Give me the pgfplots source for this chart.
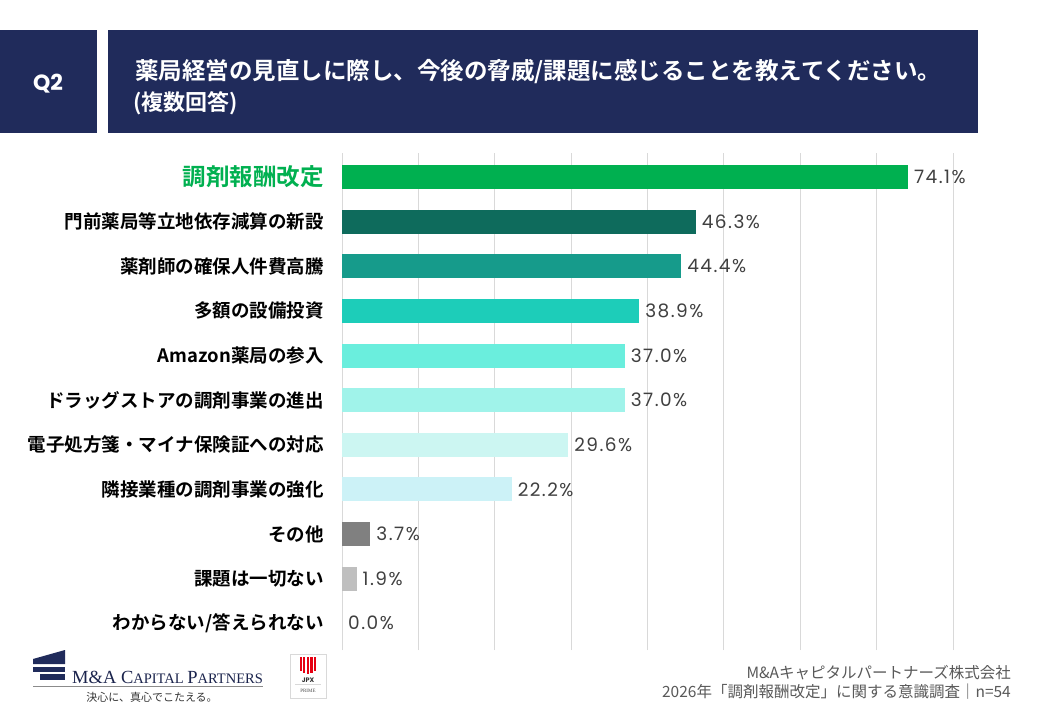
\documentclass[border=0pt]{standalone}
\usepackage{pgfplots}
\pgfplotsset{compat=1.18}
\usepackage{fontspec}
\setmainfont{Noto Sans CJK JP}
\newfontfamily\jp[BoldFont={Noto Sans CJK JP Bold}]{Noto Sans CJK JP}
\newfontfamily\pop{Poppins}
\newfontfamily\popw[LetterSpace=8]{Poppins}
\newfontfamily\lserif{Liberation Serif}
\definecolor{navy}{HTML}{202B5B}
\definecolor{cA}{HTML}{00B050}
\definecolor{cB}{HTML}{0E6B5C}
\definecolor{cC}{HTML}{169B8B}
\definecolor{cD}{HTML}{1DCDB9}
\definecolor{cE}{HTML}{6AEEDD}
\definecolor{cF}{HTML}{A0F3EA}
\definecolor{cG}{HTML}{CCF6F2}
\definecolor{cH}{HTML}{CCF2F7}
\definecolor{cI}{HTML}{808080}
\definecolor{cJ}{HTML}{BFBFBF}
\definecolor{gridc}{HTML}{D9D9D9}
\definecolor{valc}{HTML}{404040}
\definecolor{footc}{HTML}{595959}
\definecolor{jpxred}{HTML}{E60012}
\begin{document}
\begin{tikzpicture}[x=1pt,y=1pt]
\path[fill=white] (0pt,0pt) rectangle (1040pt,720pt);
% chart
\begin{axis}[
  at={(342pt,70pt)}, anchor=south west,
  width=611pt, height=497pt, scale only axis,
  xmin=0, xmax=80, ymin=-10.6, ymax=0.54,
  xbar, bar width=24pt, bar shift=0pt,
  xtick={0,10,...,80}, xticklabels={},
  xmajorgrids, grid style={draw=gridc, line width=1pt},
  axis line style={draw=none}, tick style={draw=none},
  ytick={-10,-9,...,0},
  yticklabels={わからない/答えられない,課題は一切ない,その他,隣接業種の調剤事業の強化,電子処方箋・マイナ保険証への対応,ドラッグストアの調剤事業の進出,Amazon薬局の参入,多額の設備投資,薬剤師の確保人件費高騰,門前薬局等立地依存減算の新設,{\fontsize{23.5}{23.5}\selectfont\color{cA}調剤報酬改定}},
  yticklabel style={anchor=east, inner sep=0pt, xshift=-14pt, font=\jp\bfseries\fontsize{18.5}{18.5}\selectfont, text=black},
  clip=false,
  point meta=explicit symbolic,
  nodes near coords,
  every node near coord/.append style={anchor=west, inner sep=0pt, xshift=6pt, font=\popw\fontsize{18.5}{18.5}\selectfont, text=valc},
]
\addplot[fill=cA, draw=none] coordinates {(74.1,0) [74.1\%]};
\addplot[fill=cB, draw=none] coordinates {(46.3,-1) [46.3\%]};
\addplot[fill=cC, draw=none] coordinates {(44.4,-2) [44.4\%]};
\addplot[fill=cD, draw=none] coordinates {(38.9,-3) [38.9\%]};
\addplot[fill=cE, draw=none] coordinates {(37.0,-4) [37.0\%]};
\addplot[fill=cF, draw=none] coordinates {(37.0,-5) [37.0\%]};
\addplot[fill=cG, draw=none] coordinates {(29.6,-6) [29.6\%]};
\addplot[fill=cH, draw=none] coordinates {(22.2,-7) [22.2\%]};
\addplot[fill=cI, draw=none] coordinates {(3.7,-8) [3.7\%]};
\addplot[fill=cJ, draw=none] coordinates {(1.9,-9) [1.9\%]};
\addplot[fill=none, draw=none] coordinates {(0.0,-10) [0.0\%]};
\end{axis}
% header
\fill[navy] (0pt,690pt) rectangle (97pt,587pt);
\fill[navy] (108pt,690pt) rectangle (978pt,587pt);
\node[text=white,font=\pop\bfseries\fontsize{22}{22}\selectfont] at (48pt,636pt) {Q2};
\node[anchor=west,inner sep=0pt,text=white,font=\jp\bfseries\fontsize{23.5}{23.5}\selectfont] at (135pt,648pt) {薬局経営の見直しに際し、今後の脅威/課題に感じることを教えてください。};
\node[anchor=west,inner sep=0pt,text=white,font=\jp\bfseries\fontsize{22}{22}\selectfont] at (133pt,617pt) {(複数回答)};
% footer logo
\fill[navy] (33pt,61pt) -- (65pt,70pt) -- (65pt,56pt) -- (33pt,56pt) -- cycle;
\fill[navy] (33pt,53pt) rectangle (65pt,48pt);
\fill[navy] (40pt,46pt) rectangle (65pt,40pt);
\node[anchor=west,inner sep=0pt,text=navy!85!black,font=\lserif] at (72pt,43pt) {{\fontsize{18.5}{18.5}\selectfont M\&A C}{\fontsize{14.5}{14.5}\selectfont APITAL }{\fontsize{18.5}{18.5}\selectfont P}{\fontsize{14.5}{14.5}\selectfont ARTNERS}};
\draw[footc!70, line width=0.8pt] (33pt,34pt) -- (263pt,34pt);
\node[text=black!80,font=\jp\fontsize{11}{11}\selectfont] at (152pt,23pt) {決心に、真心でこたえる。};
% JPX box
\draw[gridc, line width=0.8pt] (290pt,66pt) rectangle (326pt,22pt);
\foreach \i/\h in {0/14,1/16,2/17,3/16,4/14}{
  \fill[jpxred] (299.5pt+\i*3.6pt,63pt-\h pt) rectangle ++(2.2pt,\h pt);
}
\node[font=\pop\bfseries\fontsize{6.5}{6.5}\selectfont,text=black!80] at (308pt,40pt) {JPX};
\draw[gridc,line width=0.5pt] (295pt,35.5pt) -- (321pt,35.5pt);
\node[font=\lserif\fontsize{5}{5}\selectfont,text=black!70] at (308pt,29pt) {PRIME};
% footer right
\node[anchor=east,inner sep=0pt,text=footc,font=\jp\fontsize{15.5}{15.5}\selectfont] at (1011pt,47pt) {M\&Aキャピタルパートナーズ株式会社};
\node[anchor=east,inner sep=0pt,text=footc,font=\jp\fontsize{15.5}{15.5}\selectfont] at (1011pt,28pt) {2026年「調剤報酬改定」に関する意識調査｜n=54};
\end{tikzpicture}
\end{document}
